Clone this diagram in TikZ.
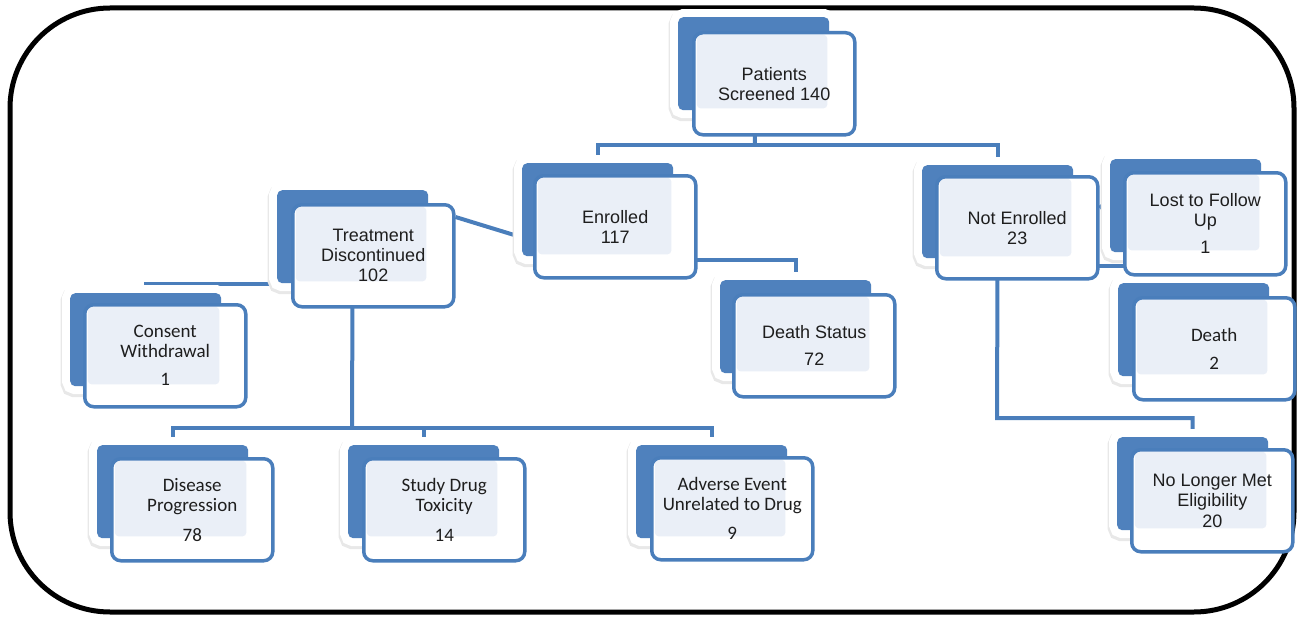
\documentclass[tikz,border=0pt]{standalone}
\usepackage{fontspec}
\usepackage{xcolor}
\setmainfont{Liberation Sans}
\newfontfamily\calFont{Carlito}
\usetikzlibrary{calc}
\definecolor{boxBlue}{HTML}{4F81BD}
\definecolor{boxLine}{HTML}{4A7EBB}
\definecolor{boxLight}{HTML}{EAEFF7}
\definecolor{textGray}{HTML}{1E1E1E}
\newcommand{\fcArial}{\fontsize{18}{20}\selectfont}
\newcommand{\fcCal}{\calFont\fontsize{19}{20}\selectfont}
\pgfdeclarelayer{bg}
\pgfsetlayers{bg,main}
\tikzset{
  backBox/.style={rectangle, rounded corners=5pt, anchor=north west, inner sep=0pt,
    minimum width=151pt, minimum height=93pt, fill=boxBlue,
    preaction={draw=black!9, line width=17pt, transform canvas={xshift=-1pt, yshift=-2.5pt}},
    preaction={draw=white, line width=16pt}},
  frontBox/.style={rectangle, rounded corners=9pt, anchor=north west, inner sep=2pt,
    minimum width=161pt, minimum height=102pt, draw=boxLine, line width=3.5pt, fill=white,
    align=center, text=textGray,
    path picture={\fill[boxLight, rounded corners=4pt]
      ([shift={(3,2)}]path picture bounding box.north west) rectangle ([shift={(-2,-2)}]#1.south east);}},
  link/.style={draw=boxLine, line width=4pt}
}
\begin{document}
\begin{tikzpicture}[x=1pt,y=-1pt]
\useasboundingbox (0,0) rectangle (1302,618);
\draw[line width=5pt, rounded corners=100pt] (10,8) rectangle (1294,612);
% back boxes
\node[backBox] (patB) at (678,17) {};
\node[backBox] (trtB) at (277,190) {};
\node[backBox] (enrB) at (522,163) {};
\node[backBox] (dsB) at (720,280) {};
\node[backBox] (neB) at (922,165) {};
\node[backBox] (lfB) at (1110,159) {};
\node[backBox] (drB) at (1118,283) {};
\node[backBox] (nlB) at (1117,437) {};
\node[backBox] (cwB) at (70,293) {};
\node[backBox] (dpB) at (97,445) {};
\node[backBox] (sdB) at (348,445) {};
\node[backBox] (aeB) at (636,445) {};
% front boxes
\node[frontBox=patB, font=\fcArial] (patF) at (692,31) {Patients\\Screened 140};
\node[frontBox=trtB, font=\fcArial] (trtF) at (291,203) {Treatment\\Discontinued\\102};
\node[frontBox=enrB, font=\fcArial] (enrF) at (533,174) {Enrolled\\117};
\node[frontBox=dsB, font=\fcArial] (dsF) at (732,293) {Death Status\\[7pt]72};
\node[frontBox=neB, font=\fcArial] (neF) at (935,175) {Not Enrolled\\23};
\node[frontBox=lfB, font=\fcArial] (lfF) at (1123,171) {Lost to Follow\\Up\\[7pt]1};
\node[frontBox=drB, font=\fcCal] (drF) at (1132,296) {Death\\[8pt]2};
\node[frontBox=nlB, font=\fcArial] (nlF) at (1130,448) {No Longer Met\\Eligibility\\[1pt]20};
\node[frontBox=cwB, font=\fcCal] (cwF) at (83,303) {Consent\\Withdrawal\\[8pt]1};
\node[frontBox=dpB, font=\fcCal] (dpF) at (110,457) {Disease\\Progression\\[10pt]78};
\node[frontBox=sdB, font=\fcCal] (sdF) at (362,457) {Study Drug\\Toxicity\\[10pt]14};
\node[frontBox=aeB, font=\fcCal] (aeF) at (650,456) {Adverse Event\\Unrelated to Drug\\[9pt]9};
% connectors
\coordinate (patBus) at (755,145);
\coordinate (trtBus) at (352,428);
\coordinate (neBus) at (997,418);
\begin{pgfonlayer}{bg}
\draw[link] (patB.center) -- (patBus);
\draw[link] (enrB.center) |- (patBus) -| (neB.center);
\draw[link] ([yshift=-14pt]trtF.north east) -- ([yshift=19pt]enrB.south west);
\draw[link] (cwB.center) |- ([yshift=-1pt]trtB.south);
\draw[link] (trtB.center) -- (trtBus);
\draw[link] (dpB.center) |- (trtBus) -| (aeB.center);
\draw[link] (sdB.center) -- (sdB.center |- trtBus);
\draw[link] (enrB.center) -- ([yshift=-4pt]enrB.south) -| (dsB.center);
\draw[link] (neB.center) -- ([yshift=-8pt]neB.south) -| (drB.center);
\draw[link] ([yshift=-33pt]neF.north east) -- ([yshift=-40pt]lfB.north west);
\draw[link] (nlB.center) |- (neBus) -- (neB.center);
\end{pgfonlayer}
\end{tikzpicture}
\end{document}
